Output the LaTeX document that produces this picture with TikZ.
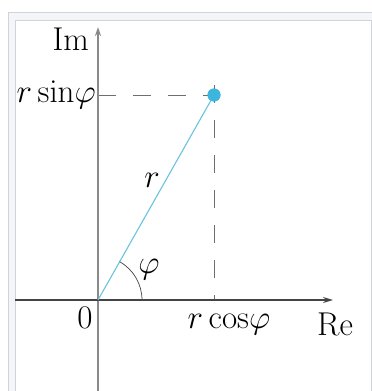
\RequirePackage{fix-cm}
\documentclass[tikz,border=0pt]{standalone}
\usetikzlibrary{arrows.meta}
\definecolor{frameline}{HTML}{D0D3D8}
\definecolor{framefill}{HTML}{F3F5F8}
\definecolor{axisgray}{HTML}{8A8A8A}
\definecolor{axisdark}{HTML}{444444}
\definecolor{dashgray}{HTML}{6E6E6E}
\definecolor{pointblue}{HTML}{3DB6DF}
\definecolor{lineblue}{HTML}{6CC3E0}
\tikzset{
  lbl/.style={font=\fontsize{33}{38}\selectfont, inner sep=0pt, text=black},
  guide/.style={draw=dashgray, line width=0.9pt, dash pattern=on 18pt off 17pt},
  axisv/.style={draw=axisgray, line width=2pt},
  axish/.style={draw=axisdark, line width=1.3pt},
}
\begin{document}
\begin{tikzpicture}[x=1pt,y=-1pt]
\useasboundingbox (0,0) rectangle (372,391);
\fill[white] (0,0) rectangle (372,391);
% frame
\fill[framefill] (8,12) rectangle (380,400);
\draw[frameline, line width=1pt] (8,400) -- (8,12) -- (380,12);
\fill[white] (15,20) rectangle (371,400);
\draw[frameline, line width=1pt] (15,400) -- (15,20) -- (371,20) -- (371,400);
% points
\coordinate (O) at (98,300);
\coordinate (xe) at (333,300);
\coordinate (xs) at (15,300);
\coordinate (ys) at (98,391);
\coordinate (ye) at (98,27);
\coordinate (Sy) at (98,95);
\coordinate (Cx) at (214,300);
\node[circle, fill=pointblue, inner sep=0pt, minimum size=13pt] (P) at (214,95) {};
% dashed guides
\draw[guide] (Sy) -- (P.center);
\draw[guide] ([yshift=10pt]P.center) -- (Cx);
% axes
\draw[axisv, -{Stealth[length=9pt,width=6pt]}] (ys) -- (ye);
\draw[axish, -{Stealth[length=10pt,width=6pt]}] (xs) -- (xe);
% radius
\draw[lineblue, line width=1.1pt] (O) -- (P.center);
\fill[pointblue] (P) circle (6.5pt);
% angle arc
\draw[axisdark, line width=0.7pt] ([xshift=44pt]O) arc[start angle=0, end angle=60.5, radius=44pt];
% labels
\node[lbl, anchor=base east] (im) at (89,50) {Im};
\node[lbl, anchor=base east] (rs) at (96,102) {$r\sin\!\varphi$};
\node[lbl] (r) at (152,180) {$r$};
\node[lbl] (phi) at (149,270) {$\varphi$};
\node[lbl, anchor=base] (zero) at (85,328) {0};
\node[lbl, anchor=base] (rc) at (229,328) {$r\cos\!\varphi$};
\node[lbl, anchor=base] (re) at (335,335) {Re};
\end{tikzpicture}
\end{document}
